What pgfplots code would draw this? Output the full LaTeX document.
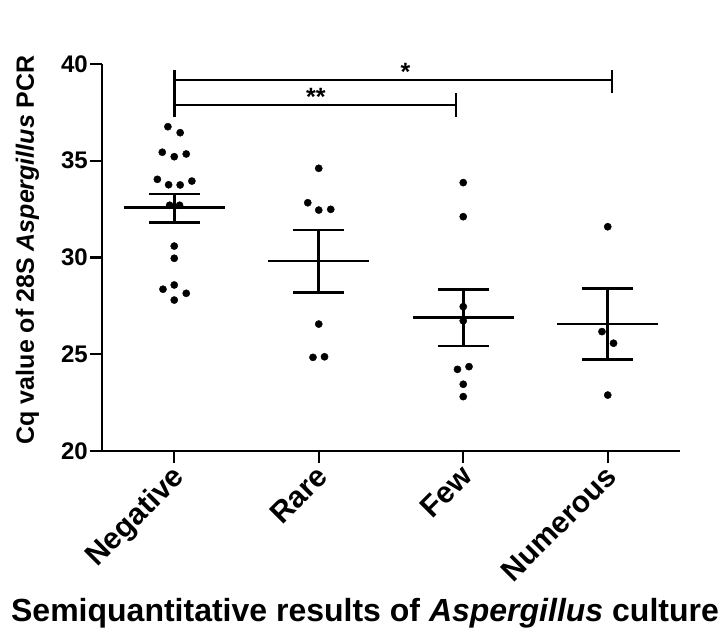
\documentclass[border=0pt]{standalone}
\usepackage{fontspec}
\setmainfont{Liberation Sans}
\usepackage{pgfplots}
\usepackage{pgfplotstable}
\pgfplotsset{compat=1.18}

% individual Cq values, x = group index + small jitter
\pgfplotstableread{
x y
-0.044 36.76
0.041 36.45
-0.083 35.44
0.000 35.21
0.083 35.35
-0.117 34.04
-0.039 33.76
0.041 33.75
0.122 33.95
-0.032 32.70
0.037 32.70
0.000 30.59
0.000 29.96
-0.078 28.36
0.000 28.58
0.083 28.15
0.000 27.80
1.000 34.61
0.924 32.83
1.000 32.45
1.083 32.49
1.000 26.56
0.960 24.84
1.040 24.87
2.000 33.87
2.000 32.11
2.000 27.46
2.000 26.73
1.960 24.22
2.040 24.36
2.000 23.45
2.000 22.81
3.000 31.59
2.960 26.17
3.040 25.57
3.000 22.89
}\cqdata

\begin{document}
\begin{tikzpicture}
\begin{axis}[
    name=ax,
    scale only axis,
    width=578pt, height=387pt,
    xmin=-0.5, xmax=3.5,
    ymin=20, ymax=40,
    axis x line*=bottom,
    axis y line*=left,
    axis line style={-, line width=2.6pt},
    xtick={0,1,2,3},
    xticklabels={Negative,Rare,Few,Numerous},
    ytick={20,25,30,35,40},
    tick align=outside,
    major tick length=12pt,
    tick style={line width=2.4pt, black},
    /pgf/number format/assume math mode=true,
    y tick label style={font=\fontsize{24}{28}\selectfont\bfseries, inner sep=2pt},
    x tick label style={font=\fontsize{30}{36}\selectfont\bfseries,
        rotate=45, anchor=north east, inner sep=1pt, xshift=-2.8pt, yshift=2.8pt},
    xticklabel shift=-1pt,
    xlabel={Semiquantitative results of \textit{Aspergillus} culture},
    ylabel={Cq value of 28S \textit{Aspergillus} PCR},
    xlabel style={font=\fontsize{32}{38}\selectfont\bfseries,
        at={(axis description cs:0.455,0)}, anchor=base, yshift=-170pt},
    ylabel style={font=\fontsize{25}{30}\selectfont\bfseries,
        at={(axis description cs:0,0.52)}, anchor=base, yshift=68pt},
    unbounded coords=jump,
    clip=false,
]
% points
\addplot[only marks, mark=*, mark size=3.6pt, black] table[x=x, y=y] {\cqdata};

% mean lines
\addplot[black, line width=2.6pt] coordinates {
  (-0.35,32.57) (0.35,32.57) (0.5,nan)
  (0.65,29.82) (1.35,29.82) (1.5,nan)
  (1.65,26.89) (2.35,26.89) (2.5,nan)
  (2.65,26.56) (3.35,26.56)
};
% SEM bars
\addplot[black, line width=2.6pt] coordinates {
  (0,31.82) (0,33.28) (0.5,nan)
  (1,28.20) (1,31.42) (1.5,nan)
  (2,25.43) (2,28.36) (2.5,nan)
  (3,24.74) (3,28.41)
};
% SEM caps
\addplot[black, line width=2.6pt] coordinates {
  (-0.176,31.82) (0.176,31.82) (0.5,nan)
  (-0.176,33.28) (0.176,33.28) (0.5,nan)
  (0.824,28.20) (1.176,28.20) (1.5,nan)
  (0.824,31.42) (1.176,31.42) (1.5,nan)
  (1.824,25.43) (2.176,25.43) (2.5,nan)
  (1.824,28.36) (2.176,28.36) (2.5,nan)
  (2.824,24.74) (3.176,24.74) (3.5,nan)
  (2.824,28.41) (3.176,28.41)
};

% significance brackets
\addplot[black, line width=2.6pt] coordinates {
  (0,37.26) (0,39.70) (0.5,nan)
  (0,39.17) (3.03,39.17) (3.2,nan)
  (3.03,38.50) (3.03,39.70) (3.2,nan)
  (0,37.88) (1.95,37.88) (2.1,nan)
  (1.95,37.26) (1.95,38.50)
};
\node[font=\fontsize{25}{30}\selectfont\bfseries, anchor=base] at (axis cs:1.60,39.17) {*};
\node[font=\fontsize{25}{30}\selectfont\bfseries, anchor=base] at (axis cs:0.98,37.88) {**};
\end{axis}
\pgfresetboundingbox
\path[use as bounding box] ([shift={(-102pt,-182pt)}]ax.south west) rectangle ([shift={(624pt,451pt)}]ax.south west);
\end{tikzpicture}
\end{document}
